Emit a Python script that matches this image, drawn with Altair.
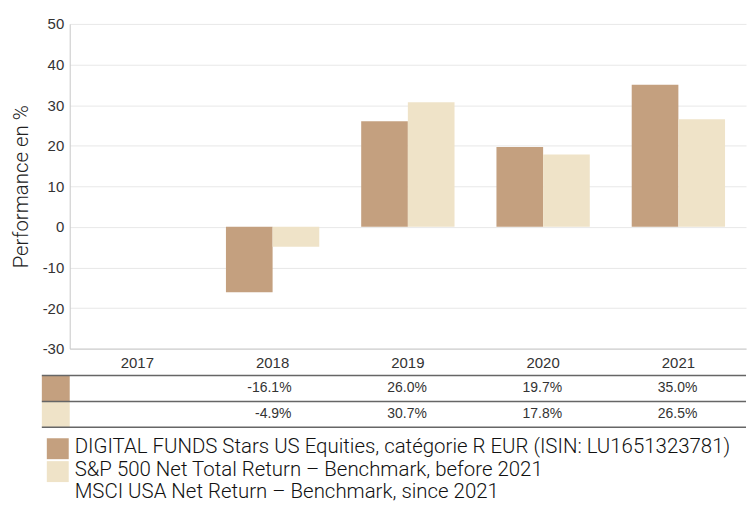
import altair as alt
import pandas as pd

years = ["2017", "2018", "2019", "2020", "2021"]
fund_values = [None, -16.1, 26.0, 19.7, 35.0]
bench_values = [None, -4.9, 30.7, 17.8, 26.5]
series_keys = ["fund", "bench"]
series_labels = [
    "DIGITAL FUNDS Stars US Equities, catégorie R EUR (ISIN: LU1651323781)",
    "S&P 500 Net Total Return – Benchmark, before 2021\nMSCI USA Net Return – Benchmark, since 2021",
]
series_colors = ["#C4A07F", "#EFE3C8"]
y_ticks = [-30, -20, -10, 0, 10, 20, 30, 40, 50]

rows = []
for key, vals in zip(series_keys, [fund_values, bench_values]):
    for yr, v in zip(years, vals):
        if v is not None:
            rows.append({"year": yr, "series": key, "value": v, "label": f"{v:.1f}%"})
df = pd.DataFrame(rows)
series_df = pd.DataFrame({"series": series_keys, "label": series_labels})

W = 679
color_scale = alt.Scale(domain=series_keys, range=series_colors)
x_scale = alt.Scale(domain=years, paddingInner=0.31, paddingOuter=0.155)
LABEL_FONT = "Liberation Sans"
TEXT_FONT = "Roboto"

bars = alt.Chart(df).mark_bar().encode(
    x=alt.X("year:N", scale=x_scale,
            axis=alt.Axis(title=None, labelAngle=0, ticks=False, grid=False,
                          domainColor="#c8c8c8", labelFontSize=15, labelColor="#333",
                          labelPadding=7, labelFont=LABEL_FONT)),
    xOffset=alt.XOffset("series:N", scale=alt.Scale(domain=series_keys, paddingInner=0, paddingOuter=0)),
    y=alt.Y("value:Q", scale=alt.Scale(domain=[-30, 50], nice=False),
            axis=alt.Axis(values=y_ticks, title="Performance en %", ticks=False,
                          labelExpr="datum.value + ''",
                          domainColor="#c8c8c8", gridColor="#e8e8e8",
                          labelFontSize=15, labelColor="#333", labelPadding=6, labelFont=LABEL_FONT,
                          titleFont=TEXT_FONT, titleFontWeight=300, titleFontSize=20.5,
                          titleColor="#222", titlePadding=11)),
    color=alt.Color("series:N", scale=color_scale, legend=None),
).properties(width=W, height=326)

tbl_scale = alt.Scale(domain=series_keys, paddingInner=0, paddingOuter=0)
table_text = alt.Chart(df).mark_text(align="right", dx=19, fontSize=14, color="#333", font=LABEL_FONT).encode(
    x=alt.X("year:N", scale=x_scale, axis=None),
    y=alt.Y("series:N", scale=tbl_scale, axis=None),
    text="label:N",
)
table_swatch = alt.Chart(series_df).mark_rect().encode(
    x=alt.value(-28), x2=alt.value(0),
    y=alt.Y("series:N", scale=tbl_scale, axis=None),
    color=alt.Color("series:N", scale=color_scale, legend=None),
)
table_rules_top = alt.Chart(series_df).mark_rule(color="#666", strokeWidth=1.5).encode(
    x=alt.value(-28), x2=alt.value(W),
    y=alt.Y("series:N", scale=tbl_scale, axis=None, bandPosition=0),
)
table_rule_bottom = alt.Chart(series_df.tail(1)).mark_rule(color="#666", strokeWidth=1.5).encode(
    x=alt.value(-28), x2=alt.value(W),
    y=alt.Y("series:N", scale=tbl_scale, axis=None, bandPosition=1),
)
table = alt.layer(table_swatch, table_rules_top, table_rule_bottom, table_text).properties(width=W, height=52)

leg_scale = alt.Scale(domain=series_keys, range=[5, 51], paddingInner=0, paddingOuter=0)
legend_swatch = alt.Chart(series_df).mark_bar(height=21).encode(
    x=alt.value(-23), x2=alt.value(-1),
    y=alt.Y("series:N", scale=leg_scale, axis=None),
    color=alt.Color("series:N", scale=color_scale, legend=None),
)
legend_text = alt.Chart(series_df).mark_text(
    align="left", baseline="top", fontSize=20.5, lineBreak="\n", lineHeight=22,
    font=TEXT_FONT, fontWeight=300, color="#111", dy=0,
).encode(
    x=alt.value(5),
    y=alt.Y("series:N", scale=leg_scale, axis=None, bandPosition=0),
    text="label:N",
)
legend = alt.layer(legend_swatch, legend_text).properties(width=W, height=68)

chart = alt.vconcat(bars, table, legend, spacing=4).properties(
    padding={"left": 11, "top": 16, "right": 0, "bottom": 0}
).configure_view(stroke=None)

chart.save("out.html", embed_options={"renderer": "svg", "actions": False})
